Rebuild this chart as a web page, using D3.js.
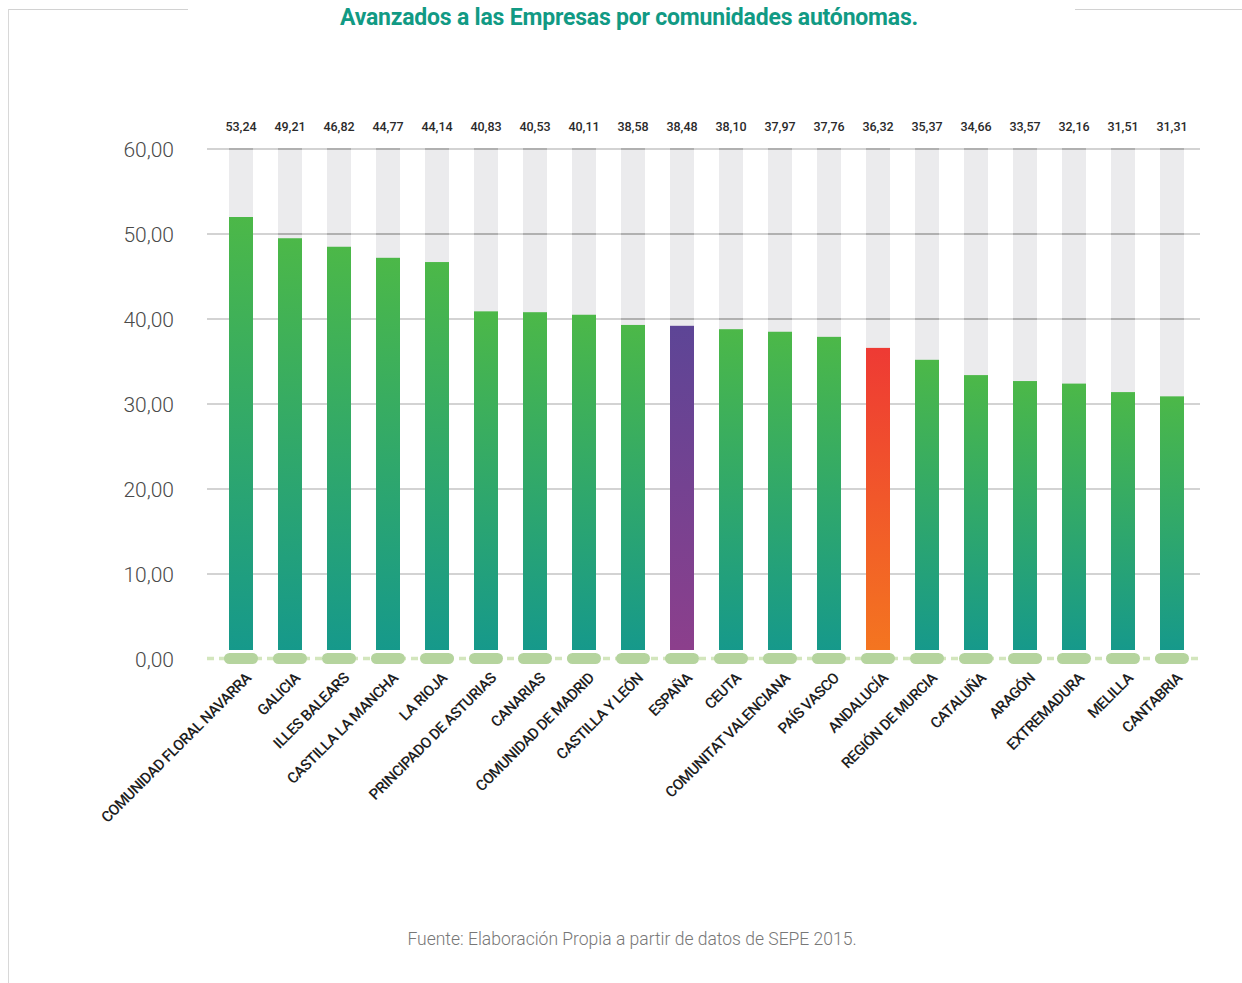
<!DOCTYPE html>
<html>
<head>
  <meta charset="utf-8">
  <title>Comunidades autónomas</title>
  <script src="https://d3js.org/d3.v7.min.js"></script>
</head>
<style>
  body {
    margin: 0;
    background: #fff;
    font-family: Roboto, "Noto Sans", sans-serif;
  }
</style>
<body>
  <svg id="chart"></svg>
  <script>
    // data
    const regions = ["COMUNIDAD FLORAL NAVARRA", "GALICIA", "ILLES BALEARS", "CASTILLA LA MANCHA", "LA RIOJA",
      "PRINCIPADO DE ASTURIAS", "CANARIAS", "COMUNIDAD DE MADRID", "CASTILLA Y LEÓN", "ESPAÑA", "CEUTA",
      "COMUNITAT VALENCIANA", "PAÍS VASCO", "ANDALUCÍA", "REGIÓN DE MURCIA", "CATALUÑA", "ARAGÓN",
      "EXTREMADURA", "MELILLA", "CANTABRIA"];
    const barValues = [52.0, 49.5, 48.5, 47.2, 46.7, 40.9, 40.8, 40.5, 39.3, 39.2, 38.8,
      38.5, 37.9, 36.6, 35.2, 33.4, 32.7, 32.4, 31.4, 30.9];
    const topLabels = ["53,24", "49,21", "46,82", "44,77", "44,14", "40,83", "40,53", "40,11", "38,58", "38,48",
      "38,10", "37,97", "37,76", "36,32", "35,37", "34,66", "33,57", "32,16", "31,51", "31,31"];
    const yTicks = [0, 10, 20, 30, 40, 50, 60];
    const highlight = { "ESPAÑA": "purple", "ANDALUCÍA": "orange" };

    const W = 1242, H = 983;
    const svg = d3.select("#chart").attr("width", W).attr("height", H);

    // gradients
    const defs = svg.append("defs");
    const grads = {
      green: ["#4cb848", "#16998b"],
      purple: ["#5d4596", "#8c3f8c"],
      orange: ["#ee3a34", "#f47520"]
    };
    Object.keys(grads).forEach(k => {
      const g = defs.append("linearGradient").attr("id", "g-" + k)
        .attr("x1", 0).attr("y1", 0).attr("x2", 0).attr("y2", 1);
      g.append("stop").attr("offset", "0%").attr("stop-color", grads[k][0]);
      g.append("stop").attr("offset", "100%").attr("stop-color", grads[k][1]);
    });

    // frame
    svg.append("line").attr("x1", 8).attr("x2", 188).attr("y1", 9.5).attr("y2", 9.5)
      .attr("stroke", "#d2d2d2").attr("stroke-width", 1);
    svg.append("line").attr("x1", 1075).attr("x2", W).attr("y1", 9.5).attr("y2", 9.5)
      .attr("stroke", "#d2d2d2").attr("stroke-width", 1);
    svg.append("line").attr("x1", 8.5).attr("x2", 8.5).attr("y1", 9).attr("y2", H)
      .attr("stroke", "#d8d8d8").attr("stroke-width", 1);

    // title
    svg.append("text")
      .attr("x", 629).attr("y", 25)
      .attr("text-anchor", "middle")
      .attr("fill", "#119a84")
      .style("font-size", "23px").style("font-weight", 700)
      .style("letter-spacing", "-0.2px")
      .text("Avanzados a las Empresas por comunidades autónomas.");

    const x = d3.scalePoint().domain(regions).range([241, 1172]);
    const y = d3.scaleLinear().domain([0, 60]).range([659, 149]);
    const bw = 24;
    const barBottom = y(0) - 9;

    // grey background columns
    svg.append("g").selectAll("rect")
      .data(regions)
      .join("rect")
      .attr("x", d => x(d) - bw / 2)
      .attr("y", y(60))
      .attr("width", bw)
      .attr("height", barBottom - y(60))
      .attr("fill", "#ebebed");

    // gridlines
    const grid = svg.append("g");
    grid.selectAll("line")
      .data(yTicks.filter(t => t > 0))
      .join("line")
      .attr("x1", 207).attr("x2", 1200)
      .attr("y1", d => y(d)).attr("y2", d => y(d))
      .attr("stroke", "#c4c4c4").attr("stroke-width", 1.3);
    // darker segments where lines cross the grey columns
    yTicks.filter(t => t > 0).forEach(t => {
      grid.append("g").selectAll("line")
        .data(regions)
        .join("line")
        .attr("x1", d => x(d) - bw / 2).attr("x2", d => x(d) + bw / 2)
        .attr("y1", y(t)).attr("y2", y(t))
        .attr("stroke", "#b0b0b0").attr("stroke-width", 2);
    });

    // y labels
    svg.append("g").selectAll("text")
      .data(yTicks)
      .join("text")
      .attr("x", 174)
      .attr("y", d => y(d))
      .attr("dy", "0.36em")
      .attr("text-anchor", "end")
      .attr("fill", "#4a4a4a")
      .style("font-size", "21px").style("font-weight", 300)
      .text(d => d3.format(".2f")(d).replace(".", ","));

    // coloured bars
    svg.append("g").selectAll("rect")
      .data(regions)
      .join("rect")
      .attr("x", d => x(d) - bw / 2)
      .attr("y", (d, i) => y(barValues[i]))
      .attr("width", bw)
      .attr("height", (d, i) => barBottom - y(barValues[i]))
      .attr("fill", d => "url(#g-" + (highlight[d] || "green") + ")");

    // dashed baseline with pills
    svg.append("line")
      .attr("x1", 207).attr("x2", 1200)
      .attr("y1", y(0) - 0.5).attr("y2", y(0) - 0.5)
      .attr("stroke", "#d3e6bd").attr("stroke-width", 3.5)
      .attr("stroke-dasharray", "7 5");
    svg.append("g").selectAll("rect")
      .data(regions)
      .join("rect")
      .attr("x", d => x(d) - 17)
      .attr("y", y(0) - 6)
      .attr("width", 34)
      .attr("height", 11)
      .attr("rx", 5.5)
      .attr("fill", "#b5d49e");

    // value labels on top
    svg.append("g").selectAll("text")
      .data(regions)
      .join("text")
      .attr("x", d => x(d))
      .attr("y", 131)
      .attr("text-anchor", "middle")
      .attr("fill", "#2a2a2a")
      .style("font-size", "12.5px").style("font-weight", 500)
      .text((d, i) => topLabels[i]);

    // category labels
    svg.append("g").selectAll("text")
      .data(regions)
      .join("text")
      .attr("transform", d => `translate(${x(d) + 11},${y(0) + 20}) rotate(-45)`)
      .attr("text-anchor", "end")
      .attr("fill", "#1e1e1e")
      .style("font-size", "15px").style("font-weight", 500)
      .style("letter-spacing", "-0.5px")
      .text(d => d);

    // source
    svg.append("text")
      .attr("x", 632).attr("y", 945)
      .attr("text-anchor", "middle")
      .attr("fill", "#777")
      .style("font-size", "17.5px").style("font-weight", 300)
      .text("Fuente: Elaboración Propia a partir de datos de SEPE 2015.");
  </script>
</body>
</html>
